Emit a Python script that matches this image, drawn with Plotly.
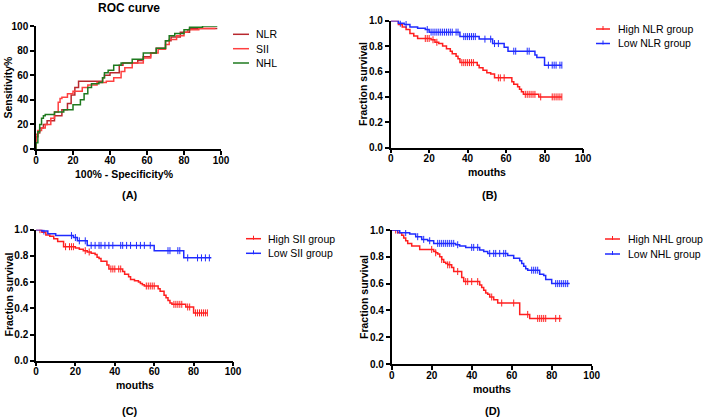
import plotly.graph_objects as go

W, H = 709, 418
FONT = "Liberation Sans, Arial, sans-serif"

# ---------------- ROC data (panel A) ----------------
roc_nlr_x = [0, 1, 2, 4, 6, 10, 14, 17, 19, 21, 23, 25, 36, 37, 40, 45, 47, 55, 58, 62, 65, 70, 73, 78, 83, 92, 98]
roc_nlr_y = [0, 10, 13, 17, 20, 23, 27, 32, 37, 44, 50, 55, 55, 58, 60, 62, 68, 70, 72, 75, 78, 82, 88, 91, 95, 98, 98]
roc_sii_x = [0, 1, 3, 5, 8, 10, 12, 13, 14, 17, 20, 25, 28, 33, 38, 42, 46, 48, 52, 58, 62, 66, 70, 72, 76, 80, 82, 88, 97]
roc_sii_y = [0, 12, 15, 17, 20, 25, 30, 38, 41, 42, 45, 47, 50, 52, 54, 55, 58, 63, 66, 70, 74, 78, 81, 85, 89, 92, 95, 97, 98]
roc_nhl_x = [0, 1, 2, 3, 4, 5, 10, 15, 20, 24, 26, 28, 30, 34, 36, 37, 39, 42, 46, 52, 58, 65, 70, 72, 75, 80, 83, 90, 98]
roc_nhl_y = [0, 5, 14, 20, 25, 27, 28, 30, 32, 36, 40, 45, 50, 53, 54, 58, 62, 64, 68, 70, 73, 78, 82, 88, 92, 94, 97, 99, 100]

# ---------------- KM data (panels B, C, D) ----------------
b_high_t = [0, 4, 6, 8, 10, 12, 14, 21, 23, 25, 27, 29, 31, 32, 34, 35, 36, 45, 46, 48, 50, 52, 54, 63, 64, 66, 67, 68, 69, 77, 89]
b_high_s = [1.0, 0.97, 0.95, 0.93, 0.90, 0.88, 0.86, 0.85, 0.83, 0.82, 0.80, 0.78, 0.76, 0.74, 0.72, 0.70, 0.67, 0.65, 0.63, 0.61, 0.59, 0.58, 0.55, 0.52, 0.50, 0.48, 0.46, 0.44, 0.42, 0.40, 0.40]
b_high_c = [18, 19, 20, 22, 24, 37, 38, 39, 40, 41, 42, 43, 56, 57, 59, 70, 71, 72, 73, 74, 75, 78, 84, 85, 86, 87, 88, 89]
b_low_t = [0, 4, 7, 10, 14, 18, 20, 36, 46, 53, 59, 61, 75, 76, 80, 89]
b_low_s = [1.0, 0.98, 0.97, 0.95, 0.94, 0.93, 0.91, 0.875, 0.855, 0.82, 0.79, 0.76, 0.73, 0.71, 0.65, 0.65]
b_low_c = [5, 8, 19, 21, 22, 23, 24, 25, 26, 27, 28, 29, 30, 31, 32, 34, 35, 38, 39, 40, 41, 42, 43, 44, 49, 52, 54, 56, 64, 65, 71, 72, 82, 84, 85, 86, 88, 89]

c_high_t = [0, 3, 5, 7, 9, 11, 14, 20, 22, 24, 26, 28, 30, 31, 32, 33, 36, 37, 44, 45, 47, 48, 50, 52, 53, 54, 55, 62, 63, 65, 66, 67, 68, 69, 76, 80, 87]
c_high_s = [1.0, 0.98, 0.96, 0.95, 0.93, 0.91, 0.87, 0.86, 0.85, 0.84, 0.83, 0.82, 0.81, 0.79, 0.78, 0.76, 0.73, 0.70, 0.68, 0.66, 0.64, 0.62, 0.61, 0.60, 0.59, 0.58, 0.57, 0.55, 0.53, 0.50, 0.48, 0.46, 0.44, 0.43, 0.41, 0.365, 0.365]
c_high_c = [2, 15, 17, 18, 19, 25, 27, 38, 39, 40, 42, 43, 56, 57, 58, 59, 60, 70, 71, 72, 73, 74, 77, 78, 81, 82, 83, 84, 85, 86, 87]
c_low_t = [0, 3, 6, 10, 19, 21, 26, 60, 75, 89]
c_low_s = [1.0, 0.99, 0.97, 0.955, 0.94, 0.915, 0.88, 0.84, 0.785, 0.785]
c_low_c = [4, 18, 20, 22, 25, 28, 30, 32, 33, 35, 37, 39, 43, 44, 46, 48, 51, 53, 55, 58, 67, 68, 72, 73, 77, 82, 84, 86, 88]

d_high_t = [0, 3, 5, 6, 7, 8, 10, 14, 21, 22, 23, 24, 25, 26, 27, 28, 30, 31, 35, 36, 44, 45, 46, 47, 48, 49, 51, 53, 64, 69, 85]
d_high_s = [1.0, 0.98, 0.96, 0.94, 0.92, 0.90, 0.88, 0.855, 0.84, 0.83, 0.82, 0.80, 0.78, 0.76, 0.75, 0.74, 0.72, 0.69, 0.645, 0.615, 0.59, 0.57, 0.55, 0.53, 0.52, 0.50, 0.48, 0.455, 0.37, 0.34, 0.34]
d_high_c = [2, 20, 22, 25, 28, 29, 33, 37, 38, 40, 43, 50, 55, 61, 68, 73, 74, 75, 76, 77, 82, 84]
d_low_t = [0, 4, 9, 12, 15, 18, 21, 32, 34, 37, 44, 46, 48, 58, 61, 64, 65, 66, 67, 68, 74, 76, 77, 80, 89]
d_low_s = [1.0, 0.98, 0.97, 0.95, 0.93, 0.92, 0.90, 0.89, 0.88, 0.87, 0.85, 0.84, 0.825, 0.81, 0.79, 0.77, 0.75, 0.73, 0.71, 0.70, 0.67, 0.66, 0.63, 0.60, 0.60]
d_low_c = [3, 7, 13, 16, 19, 23, 24, 25, 26, 27, 28, 29, 30, 31, 33, 40, 41, 43, 49, 51, 52, 54, 56, 57, 70, 71, 72, 73, 82, 83, 84, 85, 86, 87, 88]

RED = "#ff1f1f"
BLUE = "#1f2bff"
NLR_C = "#b8282e"
SII_C = "#ff4040"
NHL_C = "#1f7a1f"


def surv_at(ts, ss, c):
    v = ss[0]
    for t, s in zip(ts, ss):
        if t <= c:
            v = s
    return v


def xd(a, b):
    return [a / W, b / W]


def yd(top, bottom):
    return [1 - bottom / H, 1 - top / H]


fig = go.Figure()

# Panel A
for xs, ys, col, nm in [(roc_nlr_x, roc_nlr_y, NLR_C, "NLR"),
                        (roc_sii_x, roc_sii_y, SII_C, "SII"),
                        (roc_nhl_x, roc_nhl_y, NHL_C, "NHL")]:
    fig.add_trace(go.Scatter(x=xs, y=ys, mode="lines", line=dict(color=col, width=1.5, shape="vh"),
                             name=nm, showlegend=False, xaxis="x", yaxis="y"))

panels = [
    ("x2", "y2", [(b_high_t, b_high_s, b_high_c, RED, "High NLR group"),
                  (b_low_t, b_low_s, b_low_c, BLUE, "Low NLR group")]),
    ("x3", "y3", [(c_high_t, c_high_s, c_high_c, RED, "High SII group"),
                  (c_low_t, c_low_s, c_low_c, BLUE, "Low SII group")]),
    ("x4", "y4", [(d_high_t, d_high_s, d_high_c, RED, "High NHL group"),
                  (d_low_t, d_low_s, d_low_c, BLUE, "Low NHL group")]),
]
for xa, ya, series in panels:
    for ts, ss, cs, col, nm in series:
        fig.add_trace(go.Scatter(x=ts, y=ss, mode="lines", line=dict(color=col, width=1.5, shape="hv"),
                                 name=nm, showlegend=False, xaxis=xa, yaxis=ya))
        fig.add_trace(go.Scatter(x=cs, y=[surv_at(ts, ss, c) for c in cs], mode="markers",
                                 marker=dict(symbol="line-ns", size=5, line=dict(color=col, width=1)),
                                 name=nm + " censored", showlegend=False, xaxis=xa, yaxis=ya,
                                 hoverinfo="skip"))

tickfont = dict(family=FONT, size=10, color="black", weight="bold")


def ax(domain, anchor, rng, dtick, fmt=None, is_x=True):
    d = dict(domain=domain, anchor=anchor, range=rng, dtick=dtick, tick0=0,
             showline=True, linecolor="black", linewidth=1.5,
             ticks="outside", ticklen=4, tickwidth=1.5, tickcolor="black",
             showgrid=False, zeroline=False, tickfont=tickfont, fixedrange=True,
             automargin=False)
    if is_x:
        d["ticklabelstandoff"] = -3
    if fmt:
        d["tickformat"] = fmt
    return d


fig.update_layout(
    width=W, height=H, margin=dict(l=0, r=0, t=0, b=0, autoexpand=False),
    paper_bgcolor="white", plot_bgcolor="white", showlegend=False,
    font=dict(family=FONT, color="black"),
    xaxis=ax(xd(36, 221), "y", [0, 100], 20),
    yaxis=ax(yd(26, 149), "x", [0, 100], 20, is_x=False),
    xaxis2=ax(xd(390.7, 583), "y2", [0, 100], 20),
    yaxis2=ax(yd(20.7, 147.7), "x2", [0, 1.0], 0.2, ".1f", is_x=False),
    xaxis3=ax(xd(36, 233), "y3", [0, 100], 20),
    yaxis3=ax(yd(229.7, 360.7), "x3", [0, 1.0], 0.2, ".1f", is_x=False),
    xaxis4=ax(xd(391.7, 591.7), "y4", [0, 100], 20),
    yaxis4=ax(yd(230, 364), "x4", [0, 1.0], 0.2, ".1f", is_x=False),
)


def ann(text, px, py, size=10.5, bold=True, angle=0, xanchor="center"):
    fig.add_annotation(text=text, x=px / W, y=1 - py / H, xref="paper", yref="paper",
                       showarrow=False, xanchor=xanchor, yanchor="middle", textangle=angle,
                       font=dict(family=FONT, size=size, color="black",
                                 weight="bold" if bold else "normal"))


ann("ROC curve", 129, 8, size=12)
ann("100% - Specificity%", 124, 174)
ann("Sensitivity%", 8, 87.5, angle=-90)
ann("(A)", 130, 195, size=11)

ann("mouths", 487, 172.5)
ann("Fraction survival", 363, 84, angle=-90)
ann("(B)", 490, 195, size=11)

ann("mouths", 134.5, 385)
ann("Fraction survival", 8.5, 295, angle=-90)
ann("(C)", 130, 411, size=11)

ann("mouths", 491.7, 388.5)
ann("Fraction survival", 364, 297, angle=-90)
ann("(D)", 493, 411, size=11)


def legend_item(x0, x1, tx, py, col, text, tick=False):
    fig.add_shape(type="line", xref="paper", yref="paper", x0=x0 / W, x1=x1 / W,
                  y0=1 - py / H, y1=1 - py / H, line=dict(color=col, width=1.5))
    if tick:
        xm = (x0 + x1) / 2
        fig.add_shape(type="line", xref="paper", yref="paper", x0=xm / W, x1=xm / W,
                      y0=1 - (py - 3) / H, y1=1 - (py + 1) / H, line=dict(color=col, width=1))
    ann(text, tx, py, size=10.5, bold=False, xanchor="left")


legend_item(233, 249, 254, 34.3, NLR_C, "NLR")
legend_item(233, 249, 254, 48.7, SII_C, "SII")
legend_item(233, 249, 254, 63, NHL_C, "NHL")

legend_item(596, 610, 616, 29, RED, "High NLR group", True)
legend_item(596, 610, 616, 43.5, BLUE, "Low NLR group", True)
legend_item(246, 261, 266, 238.7, RED, "High SII group", True)
legend_item(246, 261, 266, 253.3, BLUE, "Low SII group", True)
legend_item(605, 620, 626, 239, RED, "High NHL group", True)
legend_item(605, 620, 626, 254, BLUE, "Low NHL group", True)

fig.write_html("out.html", config={"displayModeBar": False},
               post_script="document.body.style.margin='0';document.body.style.overflow='hidden';")
